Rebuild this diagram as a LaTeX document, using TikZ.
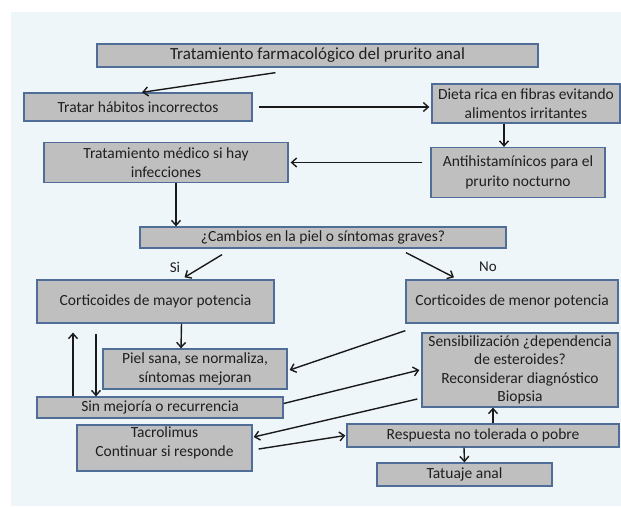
\documentclass[tikz,border=0pt]{standalone}
\usepackage{fontspec}
\setmainfont{Carlito}
\usetikzlibrary{arrows.meta}
\definecolor{panelbg}{HTML}{EFF6F9}
\definecolor{boxfill}{HTML}{BFBFBF}
\definecolor{boxline}{HTML}{4F6D96}
\definecolor{arrowink}{HTML}{1A1A1A}

\begin{document}
\begin{tikzpicture}[x=1pt,y=-1pt,
    box/.style={%
      draw=boxline,
      line width=1.3pt,
      fill=boxfill,
      rectangle,
      inner sep=0pt,
      align=center,
      text=black!88,
      font=\fontsize{15.5}{18.5}\selectfont,
    },
    arr/.style={%
      draw=arrowink,
      line width=1.4pt,
      -{Straight Barb[length=5pt,width=9pt,line width=1.4pt]},
    },
    tag/.style={font=\fontsize{15}{17}\selectfont, text=black!88},
  ]
    \fill [white] (0,0) rectangle (621,506);
    \fill [panelbg] (11,12) rectangle (621,506);
    \useasboundingbox (0,0) rectangle (621,506);

    % upper part: habits and diet
    \node [box, minimum width=441pt, minimum height=23pt,
      font=\fontsize{17}{19}\selectfont] (titulo) at (317.5,55.5)
      {Tratamiento farmacológico del prurito anal};
    \node [box, minimum width=228pt, minimum height=28pt] (habitos) at (138,107)
      {Tratar hábitos incorrectos};
    \node [box, minimum width=188pt, minimum height=39pt] (dieta) at (526,103.5)
      {Dieta rica en fibras evitando\\alimentos irritantes};
    \node [box, minimum width=174pt, minimum height=50pt,
      font=\fontsize{15.5}{20}\selectfont] (antihist) at (518,172.5)
      {Antihistamínicos para el\\prurito nocturno};
    \node [box, minimum width=244pt, minimum height=40pt] (medico) at (166,162.5)
      {Tratamiento médico si hay\\infecciones};
    \node [box, minimum width=366pt, minimum height=21pt] (cambios) at (323,237.5)
      {¿Cambios en la piel o síntomas graves?};

    % corticoides
    \node [tag] (si) at (175,267) {Si};
    \node [tag] (no) at (488,267) {No};
    \node [box, minimum width=237pt, minimum height=43pt] (mayor) at (155.5,301.5)
      {Corticoides de mayor potencia};
    \node [box, minimum width=212pt, minimum height=43pt] (menor) at (512,301.5)
      {Corticoides de menor potencia};
    \node [box, minimum width=184pt, minimum height=40pt] (piel) at (195,369)
      {Piel sana, se normaliza,\\síntomas mejoran};
    \node [box, minimum width=196pt, minimum height=74pt] (sensib) at (520,370)
      {Sensibilización ¿dependencia\\de esteroides?\\Reconsiderar diagnóstico\\Biopsia};
    \node [box, minimum width=246pt, minimum height=21pt] (sinmejoria) at (160,407.5)
      {Sin mejoría o recurrencia};
    \node [box, minimum width=175pt, minimum height=46pt,
      label={[align=center, yshift=5pt, font=\fontsize{15.5}{19}\selectfont,
        text=black!88]center:Tacrolimus\\Continuar si responde}] (tacro) at (164.5,448) {};
    \node [box, minimum width=272pt, minimum height=23pt] (respuesta) at (483,435.5)
      {Respuesta no tolerada o pobre};
    \node [box, minimum width=175pt, minimum height=23pt] (tatuaje) at (464.5,474.5)
      {Tatuaje anal};

    \draw [arr] ([xshift=-42pt,yshift=-5pt]titulo.south) -- ([xshift=4pt]habitos.north);
    \draw [arr] ([xshift=6pt]habitos.east) -- ([xshift=-2pt]habitos.east -| dieta.west);
    \draw [arr] ([xshift=-22pt]dieta.south) -- ([xshift=-14pt]antihist.north);
    \draw [arr] ([xshift=-8pt]antihist.west |- medico.east) -- ([xshift=2pt]medico.east);
    \draw [arr] ([xshift=10pt]medico.south) -- ([xshift=10pt]medico.south |- cambios.north);
    \draw [arr] ([xshift=-101pt,yshift=-6pt]cambios.south) -- ([xshift=29pt,yshift=2pt]mayor.north);
    \draw [arr] ([xshift=83pt,yshift=-4pt]cambios.south) -- ([xshift=-58pt,yshift=2pt]menor.north);

    \draw [arr] ([xshift=26pt]mayor.south) -- ([xshift=-14pt]piel.north);
    \draw [arr] ([xshift=-87pt]sinmejoria.north) -- ([xshift=-87pt,yshift=-9pt]sinmejoria.north |- mayor.south);
    \draw [arr] ([xshift=-64pt,yshift=-10pt]sinmejoria.north |- mayor.south) -- ([xshift=-64pt]sinmejoria.north);
    \draw [arr] ([yshift=-7pt]menor.south west) -- ([xshift=2pt,yshift=-1pt]piel.east);
    \draw [arr] ([yshift=4pt]sinmejoria.east) -- ([xshift=-2pt]sensib.west);
    \draw [arr] ([xshift=-4pt,yshift=-29pt]sensib.west) -- ([xshift=1pt,yshift=11pt]tacro.east);
    \draw [arr] ([xshift=6pt,yshift=-1pt]tacro.east) -- ([xshift=-1pt]respuesta.west);
    \draw [arr] ([xshift=10pt]respuesta.north) -- ([xshift=-27pt]sensib.south);
    \draw [arr] ([xshift=-19pt]respuesta.south) -- (tatuaje.north);
\end{tikzpicture}
\end{document}
